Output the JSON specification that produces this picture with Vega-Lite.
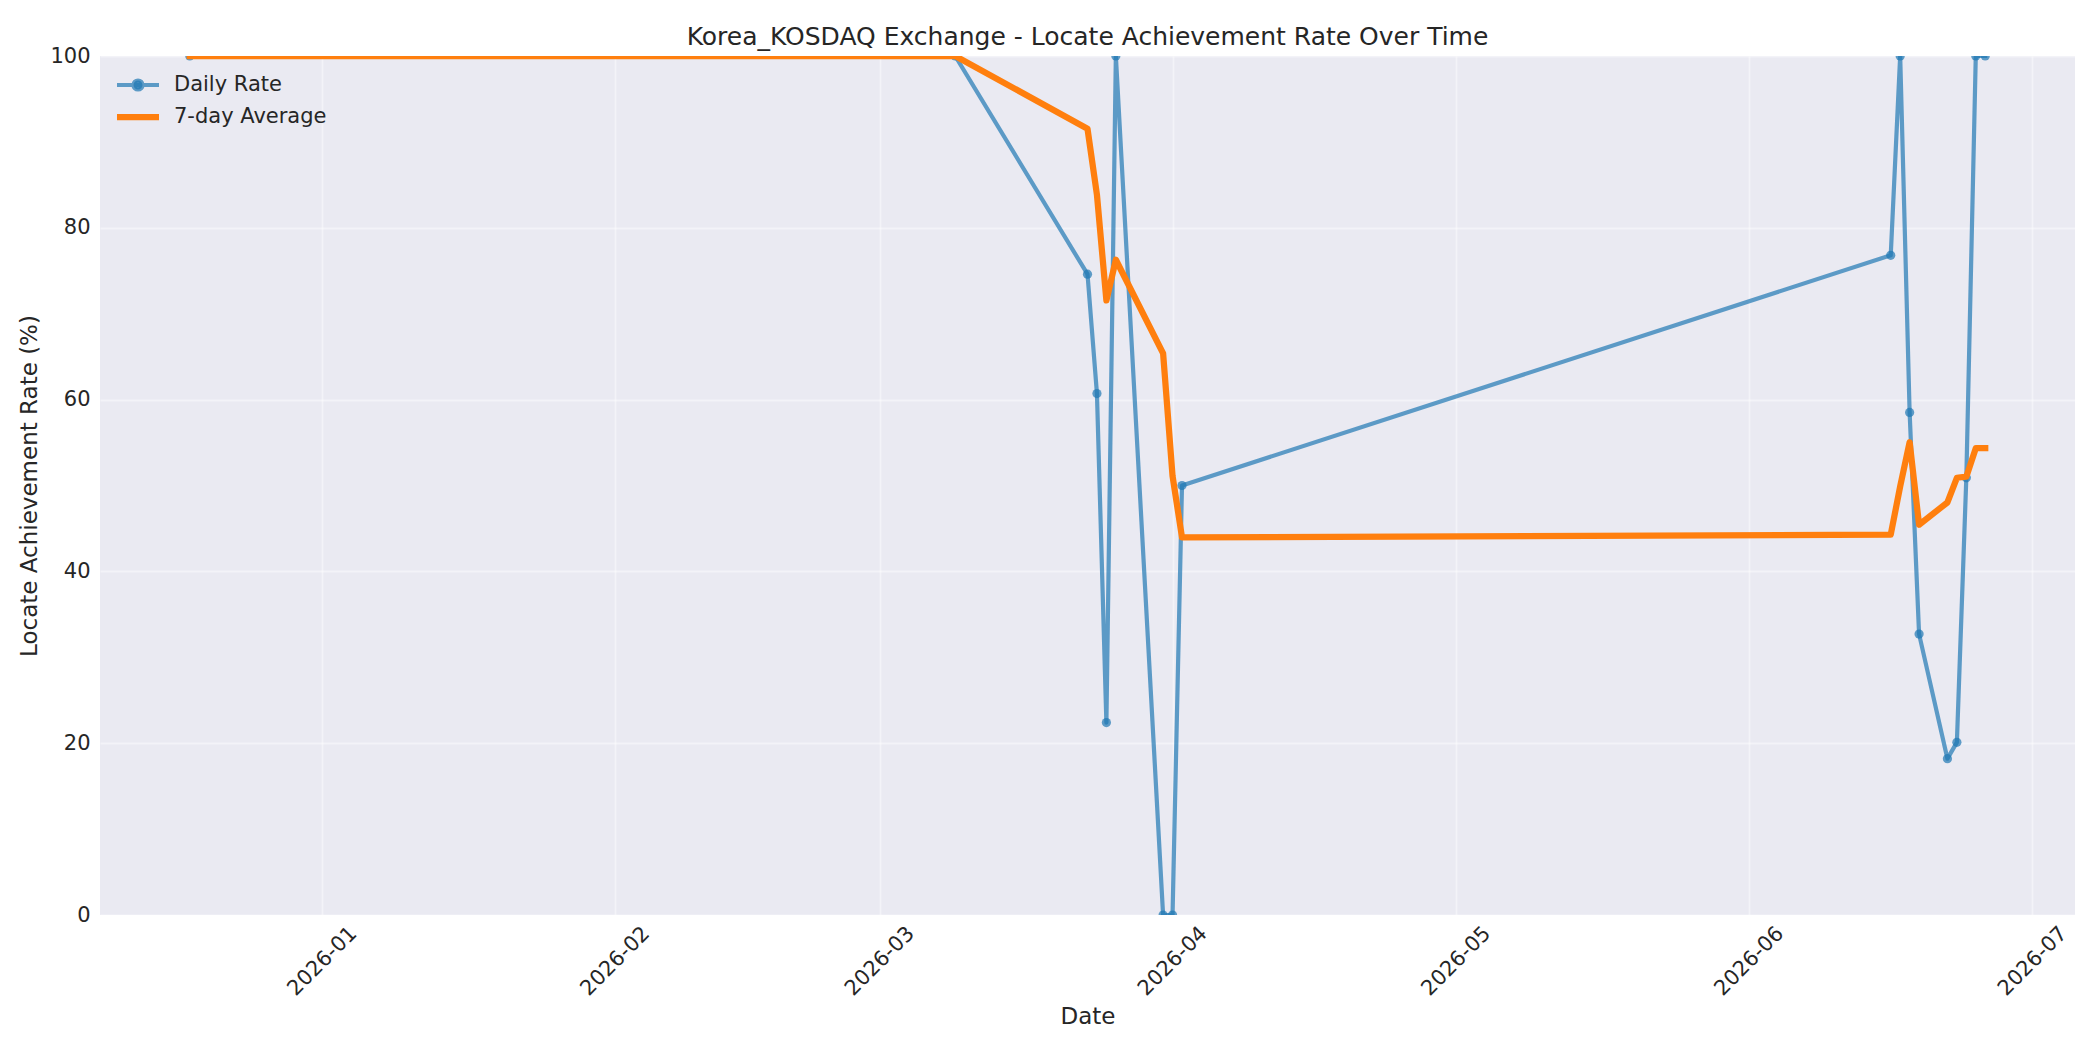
{
  "$schema": "https://vega.github.io/schema/vega-lite/v6.json",
  "width": 1975,
  "height": 859,
  "autosize": "none",
  "padding": {"left": 100, "top": 56, "right": 25, "bottom": 135},
  "background": "white",
  "title": {
    "text": "Korea_KOSDAQ Exchange - Locate Achievement Rate Over Time",
    "fontSize": 25,
    "font": "DejaVu Sans",
    "fontWeight": "normal",
    "color": "#262626",
    "anchor": "middle",
    "frame": "group",
    "offset": 12,
    "baseline": "alphabetic",
    "dy": 37
  },
  "config": {
    "font": "DejaVu Sans",
    "view": {"fill": "#EAEAF2", "stroke": null},
    "axis": {
      "domain": false,
      "ticks": false,
      "grid": true,
      "gridColor": "white",
      "gridOpacity": 0.45,
      "gridWidth": 1.8,
      "labelFont": "DejaVu Sans",
      "labelFontSize": 21,
      "labelColor": "#262626",
      "titleFont": "DejaVu Sans",
      "titleFontSize": 23,
      "titleFontWeight": "normal",
      "titleColor": "#262626"
    }
  },
  "data": {
    "values": [
      {"date": "2025-12-18", "series": "Daily Rate", "rate": 100},
      {"date": "2026-03-09", "series": "Daily Rate", "rate": 100},
      {"date": "2026-03-23", "series": "Daily Rate", "rate": 74.6},
      {"date": "2026-03-24", "series": "Daily Rate", "rate": 60.7},
      {"date": "2026-03-25", "series": "Daily Rate", "rate": 22.4},
      {"date": "2026-03-26", "series": "Daily Rate", "rate": 100},
      {"date": "2026-03-31", "series": "Daily Rate", "rate": 0},
      {"date": "2026-04-01", "series": "Daily Rate", "rate": 0},
      {"date": "2026-04-02", "series": "Daily Rate", "rate": 50.0},
      {"date": "2026-06-16", "series": "Daily Rate", "rate": 76.8},
      {"date": "2026-06-17", "series": "Daily Rate", "rate": 100},
      {"date": "2026-06-18", "series": "Daily Rate", "rate": 58.5},
      {"date": "2026-06-19", "series": "Daily Rate", "rate": 32.7},
      {"date": "2026-06-22", "series": "Daily Rate", "rate": 18.2},
      {"date": "2026-06-23", "series": "Daily Rate", "rate": 20.1},
      {"date": "2026-06-24", "series": "Daily Rate", "rate": 50.9},
      {"date": "2026-06-25", "series": "Daily Rate", "rate": 100},
      {"date": "2026-06-26", "series": "Daily Rate", "rate": 100},
      {"date": "2025-12-18", "series": "7-day Average", "rate": 100},
      {"date": "2026-03-09", "series": "7-day Average", "rate": 100},
      {"date": "2026-03-23", "series": "7-day Average", "rate": 91.53},
      {"date": "2026-03-24", "series": "7-day Average", "rate": 83.83},
      {"date": "2026-03-25", "series": "7-day Average", "rate": 71.54},
      {"date": "2026-03-26", "series": "7-day Average", "rate": 76.28},
      {"date": "2026-03-31", "series": "7-day Average", "rate": 65.39},
      {"date": "2026-04-01", "series": "7-day Average", "rate": 51.1},
      {"date": "2026-04-02", "series": "7-day Average", "rate": 43.96},
      {"date": "2026-06-16", "series": "7-day Average", "rate": 44.27},
      {"date": "2026-06-17", "series": "7-day Average", "rate": 49.89},
      {"date": "2026-06-18", "series": "7-day Average", "rate": 55.04},
      {"date": "2026-06-19", "series": "7-day Average", "rate": 45.43},
      {"date": "2026-06-22", "series": "7-day Average", "rate": 48.03},
      {"date": "2026-06-23", "series": "7-day Average", "rate": 50.9},
      {"date": "2026-06-24", "series": "7-day Average", "rate": 51.03},
      {"date": "2026-06-25", "series": "7-day Average", "rate": 54.34},
      {"date": "2026-06-26", "series": "7-day Average", "rate": 54.34}
    ]
  },
  "encoding": {
    "x": {
      "field": "date",
      "type": "temporal",
      "scale": {
        "type": "utc",
        "domain": [
          {"year": 2025, "month": 12, "date": 8, "hours": 12, "utc": true},
          {"year": 2026, "month": 7, "date": 5, "hours": 12, "utc": true}
        ]
      },
      "axis": {
        "title": "Date",
        "labelExpr": "utcFormat(datum.value, '%Y-%m')",
        "tickCount": {"interval": "month", "step": 1},
        "labelAngle": -45,
        "labelAlign": "center",
        "labelBaseline": "middle",
        "labelPadding": 46,
        "labelFlush": false,
        "labelOverlap": false,
        "titlePadding": 6
      }
    },
    "y": {
      "field": "rate",
      "type": "quantitative",
      "scale": {"domain": [0, 100], "nice": false, "zero": false},
      "axis": {
        "title": "Locate Achievement Rate (%)",
        "values": [0, 20, 40, 60, 80, 100],
        "labelPadding": 10,
        "titlePadding": 8
      }
    },
    "color": {
      "field": "series",
      "type": "nominal",
      "scale": {"domain": ["Daily Rate", "7-day Average"], "range": ["#1f77b4", "#ff7f0e"]},
      "legend": {
        "orient": "none",
        "legendX": 27.5,
        "legendY": 18.5,
        "title": null,
        "padding": 0,
        "labelFont": "DejaVu Sans",
        "labelFontSize": 21,
        "labelColor": "#262626",
        "labelOffset": 25.5,
        "symbolSize": 961,
        "rowPadding": 6,
        "encode": {
          "symbols": {
            "update": {
              "shape": {"signal": "datum.value === 'Daily Rate' ? 'M-1.355,0L1.355,0M-0.29,0A0.29,0.29,0,1,0,0.29,0A0.29,0.29,0,1,0,-0.29,0Z' : 'M-1.355,0L1.355,0'"},
              "fill": {"signal": "datum.value === 'Daily Rate' ? '#1f77b4' : 'transparent'"},
              "stroke": {"signal": "datum.value === 'Daily Rate' ? '#1f77b4' : '#ff7f0e'"},
              "strokeWidth": {"signal": "datum.value === 'Daily Rate' ? 4.2 : 6.25"},
              "strokeOpacity": {"signal": "datum.value === 'Daily Rate' ? 0.7 : 1"},
              "fillOpacity": {"signal": "datum.value === 'Daily Rate' ? 0.7 : 1"},
              "opacity": {"value": 1}
            }
          }
        }
      }
    }
  },
  "layer": [
    {
      "transform": [{"filter": "datum.series === 'Daily Rate'"}],
      "mark": {"type": "line", "strokeWidth": 4.2, "strokeOpacity": 0.7, "strokeJoin": "round", "strokeCap": "square", "clip": true}
    },
    {
      "transform": [{"filter": "datum.series === 'Daily Rate'"}],
      "mark": {"type": "point", "filled": true, "size": 85, "opacity": 0.7, "strokeWidth": 0, "clip": true}
    },
    {
      "transform": [{"filter": "datum.series === '7-day Average'"}],
      "mark": {"type": "line", "strokeWidth": 6.25, "strokeJoin": "round", "strokeCap": "square", "clip": true}
    }
  ]
}
